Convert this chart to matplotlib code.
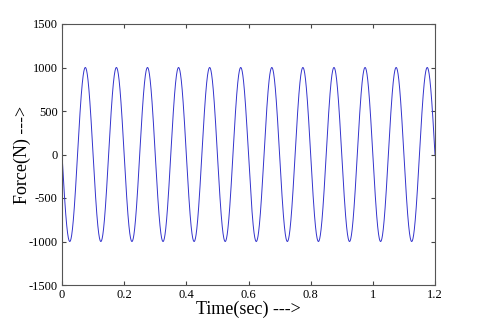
import numpy as np
import matplotlib
matplotlib.use('Agg')
import matplotlib.pyplot as plt

# signal
amplitude = 1000.0   # N
frequency = 10.0     # Hz (12 cycles in 1.2 s)
duration = 1.2       # sec
sign = -1            # starts at 0 going down

xticks = [0, 0.2, 0.4, 0.6, 0.8, 1, 1.2]
xticklabels = ['0', '0.2', '0.4', '0.6', '0.8', '1', '1.2']
yticks = [-1500, -1000, -500, 0, 500, 1000, 1500]

t = np.linspace(0, duration, 3000)
force = sign * amplitude * np.sin(2 * np.pi * frequency * t)

plt.rcParams['font.family'] = ['Liberation Serif', 'DejaVu Serif']
plt.rcParams['axes.unicode_minus'] = False

fig = plt.figure(figsize=(4.8, 3.21), dpi=100)
ax = fig.add_axes([62 / 480, 1 - 285 / 321, (435 - 62) / 480, (285 - 24) / 321])

ax.plot(t, force, color='#3333cc', linewidth=0.7)

ax.set_xlim(0, 1.2)
ax.set_ylim(-1500, 1500)
ax.set_xticks(xticks)
ax.set_xticklabels(xticklabels)
ax.set_yticks(yticks)
ax.tick_params(direction='in', length=3, labelsize=9, color='#444444', pad=3,
               top=True, right=True)
for sp in ax.spines.values():
    sp.set_color('#555555')
    sp.set_linewidth(0.8)

ax.set_xlabel('Time(sec) --->', fontsize=13, labelpad=0)
ax.set_ylabel('Force(N) --->', fontsize=13, labelpad=-2)

fig.savefig('out.png', dpi=100)
